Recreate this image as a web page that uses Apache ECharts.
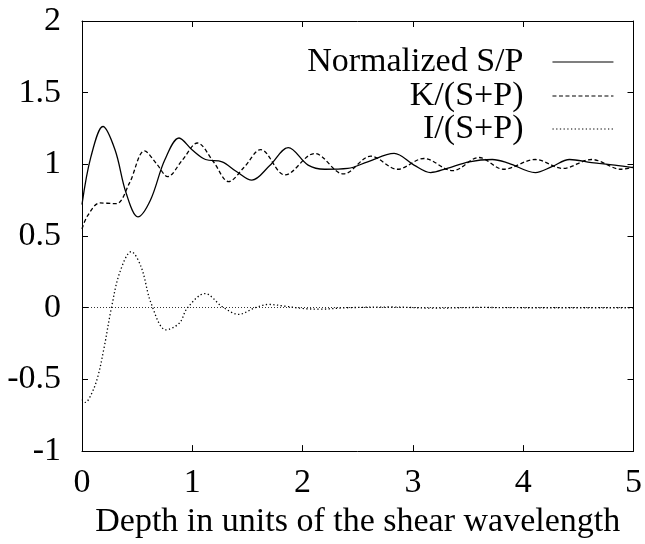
<!DOCTYPE html>
<html>
<head>
<meta charset="utf-8">
<script src="https://cdn.jsdelivr.net/npm/echarts@6/dist/echarts.min.js"></script>
<style>
html,body{margin:0;padding:0;background:#fff;}
#chart{width:645px;height:544px;}
</style>
</head>
<body>
<div id="chart"></div>
<script>
// ---- data ----
var seriesNames = ['Normalized S/P', 'K/(S+P)', 'I/(S+P)'];
var xTitle = 'Depth in units of the shear wavelength';

var spX = [0, 0.08, 0.19, 0.30, 0.40, 0.507, 0.62, 0.75, 0.88, 1.0, 1.12, 1.27, 1.40, 1.54, 1.70, 1.87, 2.05, 2.20, 2.41, 2.59, 2.83, 3.01, 3.16, 3.31, 3.51, 3.72, 3.87, 4.11, 4.26, 4.42, 4.62, 4.83, 5.0];
var spY = [0.72, 1.05, 1.264, 1.10, 0.80, 0.634, 0.75, 1.03, 1.184, 1.10, 1.034, 1.018, 0.95, 0.89, 0.99, 1.117, 0.995, 0.966, 0.972, 1.018, 1.076, 0.995, 0.943, 0.972, 1.018, 1.034, 1.007, 0.943, 0.984, 1.034, 1.012, 0.995, 0.977];

var kX = [0, 0.05, 0.162, 0.31, 0.43, 0.567, 0.68, 0.777, 0.91, 1.047, 1.19, 1.33, 1.47, 1.62, 1.84, 2.11, 2.37, 2.62, 2.86, 3.10, 3.36, 3.60, 3.82, 4.11, 4.36, 4.62, 4.89, 5.0];
var kY = [0.55, 0.64, 0.731, 0.726, 0.869, 1.094, 1.00, 0.915, 1.03, 1.149, 1.02, 0.88, 0.98, 1.103, 0.926, 1.076, 0.933, 1.057, 0.966, 1.041, 0.956, 1.048, 0.966, 1.034, 0.972, 1.034, 0.966, 0.98];

var iX = [0, 0.03, 0.08, 0.14, 0.20, 0.267, 0.342, 0.447, 0.537, 0.627, 0.762, 0.882, 0.957, 1.116, 1.272, 1.42, 1.57, 1.69, 1.85, 2.0, 2.15, 2.4, 2.8, 3.2, 3.6, 4.0, 5.0];
var iY = [-0.64, -0.66, -0.61, -0.49, -0.28, 0, 0.245, 0.391, 0.283, 0.03, -0.154, -0.108, 0, 0.099, 0.007, -0.046, 0, 0.023, 0.01, -0.005, -0.01, 0, 0.005, -0.003, 0.002, 0, 0];

var xTicks = {min: 0, max: 5, interval: 1};
var yTicks = {min: -1, max: 2, interval: 0.5};

function pairs(xs, ys) { return xs.map(function (x, i) { return [x, ys[i]]; }); }

var FONT = 'Liberation Serif';
var FS = 34;

function fmt(v) { return String(v); }

var chart = echarts.init(document.getElementById('chart'), null, {renderer: 'canvas'});

function lineSeries(name, data, dash) {
  return {
    name: name, type: 'line', data: data, smooth: 0.35,
    showSymbol: false, symbol: 'none', animation: false,
    lineStyle: {color: '#000', width: 1.3, type: dash},
    itemStyle: {color: '#000'},
    xAxisIndex: 0, yAxisIndex: 0
  };
}

function makeLegend(name, top) {
  return {
    orient: 'vertical', align: 'right', right: 31, top: top, padding: 0,
    itemWidth: 61, itemHeight: 14, selectedMode: false,
    itemStyle: {opacity: 0},
    lineStyle: {width: 1.1},
    textStyle: {fontFamily: FONT, fontSize: FS, color: '#000', padding: [0, 24, 0, 0], lineHeight: 34},
    data: [name]
  };
}

var option = {
  backgroundColor: '#fff',
  animation: false,
  grid: {left: 82, right: 8, top: 21, bottom: 88, containLabel: false},
  legend: [
    makeLegend(seriesNames[0], 45),
    makeLegend(seriesNames[1], 79),
    makeLegend(seriesNames[2], 112)
  ],
  xAxis: [
    {
      type: 'value', min: xTicks.min, max: xTicks.max, interval: xTicks.interval,
      position: 'bottom',
      name: xTitle, nameLocation: 'middle', nameGap: 47,
      nameTextStyle: {fontFamily: FONT, fontSize: FS, color: '#000'},
      axisLine: {show: true, onZero: false, lineStyle: {color: '#000', width: 1}},
      axisTick: {show: true, inside: true, length: 6, lineStyle: {color: '#000'}},
      axisLabel: {fontFamily: FONT, fontSize: FS, color: '#000', margin: 15, formatter: fmt},
      splitLine: {show: false}
    },
    {
      type: 'value', min: xTicks.min, max: xTicks.max, interval: xTicks.interval,
      position: 'top',
      axisLine: {show: true, onZero: false, lineStyle: {color: '#000', width: 1}},
      axisTick: {show: true, inside: true, length: 6, lineStyle: {color: '#000'}},
      axisLabel: {show: false},
      splitLine: {show: false}
    }
  ],
  yAxis: [
    {
      type: 'value', min: yTicks.min, max: yTicks.max, interval: yTicks.interval,
      position: 'left',
      axisLine: {show: true, onZero: false, lineStyle: {color: '#000', width: 1}},
      axisTick: {show: true, inside: true, length: 6, lineStyle: {color: '#000'}},
      axisLabel: {fontFamily: FONT, fontSize: FS, color: '#000', margin: 21, formatter: fmt},
      splitLine: {show: false}
    },
    {
      type: 'value', min: yTicks.min, max: yTicks.max, interval: yTicks.interval,
      position: 'right',
      axisLine: {show: true, onZero: false, lineStyle: {color: '#000', width: 1}},
      axisTick: {show: true, inside: true, length: 6, lineStyle: {color: '#000'}},
      axisLabel: {show: false},
      splitLine: {show: false}
    }
  ],
  series: [
    lineSeries(seriesNames[0], pairs(spX, spY), 'solid'),
    lineSeries(seriesNames[1], pairs(kX, kY), [4, 2.5]),
    Object.assign(lineSeries(seriesNames[2], pairs(iX, iY), [1.3, 2.4]), {
      markLine: {
        silent: true, symbol: 'none', animation: false,
        label: {show: false},
        lineStyle: {color: '#000', width: 0.8, type: [1, 2]},
        data: [{yAxis: 0}]
      }
    })
  ]
};
chart.setOption(option);
</script>
</body>
</html>
